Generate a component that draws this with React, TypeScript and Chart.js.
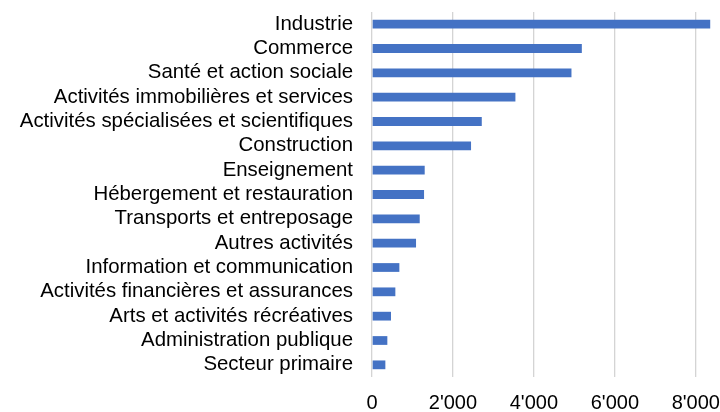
import React, { useEffect, useRef } from "react";
import { Chart, registerables } from "chart.js";

Chart.register(...registerables);

const categories = [
  "Industrie",
  "Commerce",
  "Santé et action sociale",
  "Activités immobilières et services",
  "Activités spécialisées et scientifiques",
  "Construction",
  "Enseignement",
  "Hébergement et restauration",
  "Transports et entreposage",
  "Autres activités",
  "Information et communication",
  "Activités financières et assurances",
  "Arts et activités récréatives",
  "Administration publique",
  "Secteur primaire",
];

const values = [8356, 5184, 4928, 3543, 2712, 2447, 1302, 1286, 1179, 1088, 676, 577, 470, 379, 330];

const xTicks = [0, 2000, 4000, 6000, 8000];

const FONT = "'Liberation Sans', Arial, sans-serif";

function fmt(v: number): string {
  return String(Math.round(v)).replace(/\B(?=(\d{3})+(?!\d))/g, "'");
}

export default function App() {
  const ref = useRef<HTMLCanvasElement | null>(null);

  useEffect(() => {
    if (!ref.current) return;
    const chart = new Chart(ref.current, {
      type: "bar",
      data: {
        labels: categories,
        datasets: [
          {
            data: values,
            backgroundColor: "#4472C4",
            borderWidth: 0,
            barPercentage: 0.36,
            categoryPercentage: 1,
          },
        ],
      },
      options: {
        indexAxis: "y",
        animation: false,
        responsive: false,
        maintainAspectRatio: false,
        layout: { padding: { top: 12, right: 8, bottom: 0, left: 0 } },
        plugins: { legend: { display: false }, tooltip: { enabled: false } },
        scales: {
          x: {
            min: 0,
            max: 8400,
            afterBuildTicks: (s: any) => {
              s.ticks = xTicks.map((v) => ({ value: v }));
            },
            afterFit: (s: any) => {
              s.paddingLeft = 0;
              s.paddingRight = 0;
              s.height = 35;
            },
            ticks: {
              includeBounds: false,
              color: "#000000",
              font: { family: FONT, size: 20 },
              padding: 14,
              maxRotation: 0,
              callback: (v: any) => fmt(Number(v)),
            },
            grid: { color: "#d4d4d4", lineWidth: 1.3, drawTicks: false },
            border: { display: false },
          },
          y: {
            afterFit: (s: any) => {
              s.width = 372;
              s.paddingTop = 0;
              s.paddingBottom = 0;
            },
            ticks: {
              color: "#000000",
              font: { family: FONT, size: 20.4 },
              padding: 19,
              autoSkip: false,
            },
            grid: { display: false, drawTicks: false },
            border: { display: false },
          },
        },
      },
    });
    return () => chart.destroy();
  }, []);

  return (
    <div style={{ position: "fixed", left: 0, top: 0, width: 720, height: 412, background: "#fff" }}>
      <canvas ref={ref} width={720} height={412} style={{ width: 720, height: 412 }} />
    </div>
  );
}
